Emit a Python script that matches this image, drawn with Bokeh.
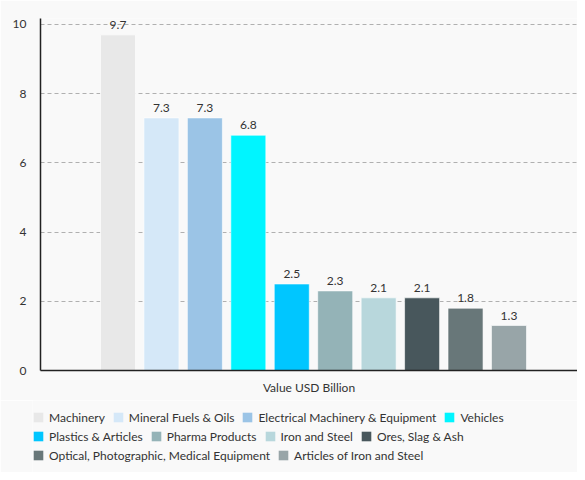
from bokeh.plotting import figure
from bokeh.layouts import column, row
from bokeh.models import ColumnDataSource, Legend, LegendItem, Range1d
from bokeh.embed import file_html
from bokeh.resources import INLINE

group = "Value USD Billion"
categories = ["Machinery", "Mineral Fuels & Oils", "Electrical Machinery & Equipment",
              "Vehicles", "Plastics & Articles", "Pharma Products", "Iron and Steel",
              "Ores, Slag & Ash", "Optical, Photographic, Medical Equipment",
              "Articles of Iron and Steel"]
values = [9.7, 7.3, 7.3, 6.8, 2.5, 2.3, 2.1, 2.1, 1.8, 1.3]
colors = ["#e8e8e8", "#d5e8f8", "#9bc4e6", "#00f5ff", "#00c6ff",
          "#94b3b7", "#b8d7dc", "#48575c", "#687779", "#98a5a8"]
y_ticks = [0, 2, 4, 6, 8, 10]

FONT = "Lato"
FS = "12px"
BG = "#f9f9f9"
TXT = "#333333"

# bars dodged inside the single category (synthetic coords 0..1)
start, step, bar_w = 0.1443, 0.0809, 0.0652
xs = [start + i * step for i in range(len(values))]

source = ColumnDataSource(dict(x=xs, top=values, color=colors, cat=categories,
                               label=[str(v) for v in values]))

p = figure(x_range=[group], y_range=(0, 10.173), width=577, height=400,
           output_backend="svg", toolbar_location=None,
           min_border_left=40, min_border_right=0, min_border_top=18,
           min_border_bottom=30)
p.background_fill_color = BG
p.border_fill_color = BG
p.outline_line_color = None

bars = p.vbar(x="x", top="top", width=bar_w, source=source, fill_color="color",
              line_color="white", line_alpha=0.6, line_width=1)
p.text(x="x", y="top", text="label", source=source, text_align="center",
       text_baseline="bottom", y_offset=-6, text_font_size=FS,
       text_color=TXT, text_font={"value": FONT})

p.xgrid.grid_line_color = None
p.ygrid.grid_line_color = "#b0b0b0"
p.ygrid.grid_line_dash = "4 3"
p.ygrid.ticker = y_ticks[1:]

p.yaxis.ticker = y_ticks
for ax in (p.xaxis, p.yaxis):
    ax.axis_line_color = "#222222"
    ax.axis_line_width = 1.5
    ax.major_tick_out = 0
    ax.major_tick_in = 0
    ax.minor_tick_out = 0
    ax.minor_tick_in = 0
    ax.major_tick_line_color = None
    ax.minor_tick_line_color = None
    ax.major_label_text_font = FONT
    ax.major_label_text_font_size = FS
    ax.major_label_text_color = TXT
p.yaxis.major_label_standoff = 14
p.xaxis.major_label_standoff = 9
p.xaxis.major_label_orientation = "horizontal"

# legend strip: a second figure whose bars sit outside its view
lf = figure(width=577, height=72, x_range=Range1d(100, 101), y_range=Range1d(100, 101),
            output_backend="svg", toolbar_location=None,
            x_axis_type=None, y_axis_type=None,
            min_border_left=32, min_border_right=0, min_border_top=0,
            min_border_bottom=0)
lf.background_fill_color = BG
lf.border_fill_color = BG
lf.outline_line_color = None
lf.grid.visible = False
lbars = lf.vbar(x="x", top="top", width=bar_w, source=source, fill_color="color",
                line_color=None)

rows = [[0, 1, 2, 3], [4, 5, 6, 7], [8, 9]]
for r, items_idx in enumerate(rows):
    items = [LegendItem(label=categories[i], renderers=[lbars], index=i) for i in items_idx]
    leg = Legend(items=items, orientation="horizontal",
                 location=(0, 45.5 - 19 * r),
                 margin=0, padding=0, spacing=7, label_standoff=5,
                 glyph_width=12, glyph_height=12, label_height=19,
                 label_text_font=FONT, label_text_font_size=FS,
                 label_text_color=TXT, background_fill_alpha=0,
                 border_line_color=None)
    lf.add_layout(leg, "center")

layout = column(p, row(lf), spacing=0)
open("out.html", "w").write(file_html(layout, INLINE))
